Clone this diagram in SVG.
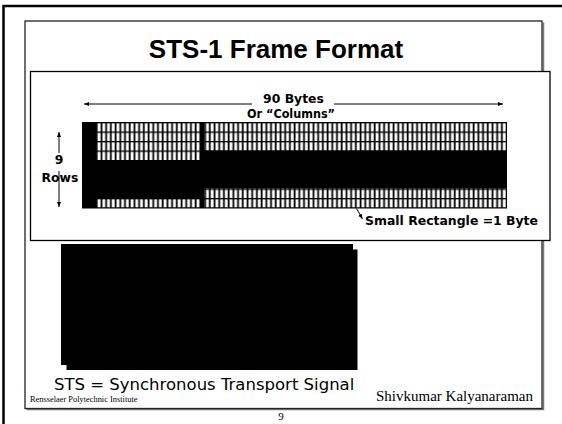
<svg xmlns="http://www.w3.org/2000/svg" width="562" height="424" viewBox="0 0 562 424">
<defs>
<style>
.lbl{font-family:"DejaVu Sans",Verdana,sans-serif;font-weight:bold;font-size:12.4px;fill:#000}
.ser{font-family:"Liberation Serif","Times New Roman",serif;fill:#000}
.conn{stroke:#000;stroke-width:1;fill:none}
</style>
<marker id="ah" viewBox="0 0 10 10" refX="10" refY="5" markerWidth="5" markerHeight="5" orient="auto" markerUnits="userSpaceOnUse"><path d="M0,1 L10,5 L0,9 z" fill="#000"/></marker>
<pattern id="cells" patternUnits="userSpaceOnUse" x="82" y="122" width="4.7111" height="9.5">
<rect width="4.7111" height="9.5" fill="#fff"/>
<rect width="1.5" height="9.5" fill="#000"/>
<rect x="3.8" width="0.9" height="9.5" fill="#aaa"/>
<rect width="4.7111" height="1.3" fill="#000"/>
</pattern>
</defs>
<rect width="562" height="424" fill="#fff"/>
<g id="outer-border"><path d="M3.5,424 V6 H562" fill="none" stroke="#000" stroke-width="2.5"/></g>
<g id="slide-frame">
<path d="M26.5,409.5 H543.5 V22.5" fill="none" stroke="#777" stroke-width="1.5"/>
<rect x="25" y="21" width="517" height="387.5" fill="none" stroke="#222" stroke-width="1.3"/>
</g>
<g id="title"><text x="276" y="58" text-anchor="middle" font-family="'Liberation Sans',Arial,sans-serif" font-weight="bold" font-size="26">STS-1 Frame Format</text></g>
<g id="figure">
<rect x="30.5" y="71.5" width="519.5" height="169" fill="#fff" stroke="#000" stroke-width="1.3"/>
<g id="grid">
<rect x="82" y="122" width="425" height="86.5" fill="#000"/>
<rect x="96.1" y="122" width="103.7" height="38" fill="url(#cells)"/>
<rect x="96.1" y="198" width="103.7" height="9.5" fill="url(#cells)"/>
<rect x="204.5" y="122" width="301.5" height="28.5" fill="url(#cells)"/>
<rect x="204.5" y="188.5" width="301.5" height="19" fill="url(#cells)"/>
</g>
<g id="labels">
<text class="lbl" x="293.5" y="103" text-anchor="middle">90 Bytes</text>
<text class="lbl" x="291" y="118" text-anchor="middle" textLength="88" lengthAdjust="spacingAndGlyphs">Or “Columns”</text>
<text class="lbl" x="59" y="164" text-anchor="middle">9</text>
<text class="lbl" x="60" y="182" text-anchor="middle">Rows</text>
<text class="lbl" x="365" y="225" textLength="173" lengthAdjust="spacingAndGlyphs">Small Rectangle =1 Byte</text>
</g>
</g>
<g id="connectors">
<path class="conn" d="M252,104 H84" marker-end="url(#ah)"/>
<path class="conn" d="M334,104 H503" marker-end="url(#ah)"/>
<path class="conn" d="M59,153 V132" marker-end="url(#ah)"/>
<path class="conn" d="M59,171 V207" marker-end="url(#ah)"/>
<path class="conn" d="M356.5,208.5 L362.5,219" marker-end="url(#ah)"/>
</g>
<g id="black-block">
<rect x="61" y="244" width="292" height="121" fill="#000"/>
<rect x="66.5" y="249.5" width="291" height="120.5" fill="#000"/>
</g>
<g id="footer">
<text x="54" y="390" font-family="'DejaVu Sans',Verdana,sans-serif" font-size="16.5">STS = Synchronous Transport Signal</text>
<text class="ser" x="30" y="401.5" font-size="8.4">Rensselaer Polytechnic Institute</text>
<text class="ser" x="533" y="401" font-size="15" text-anchor="end">Shivkumar Kalyanaraman</text>
<text class="ser" x="281" y="420" font-size="11" text-anchor="middle">9</text>
</g>
</svg>
